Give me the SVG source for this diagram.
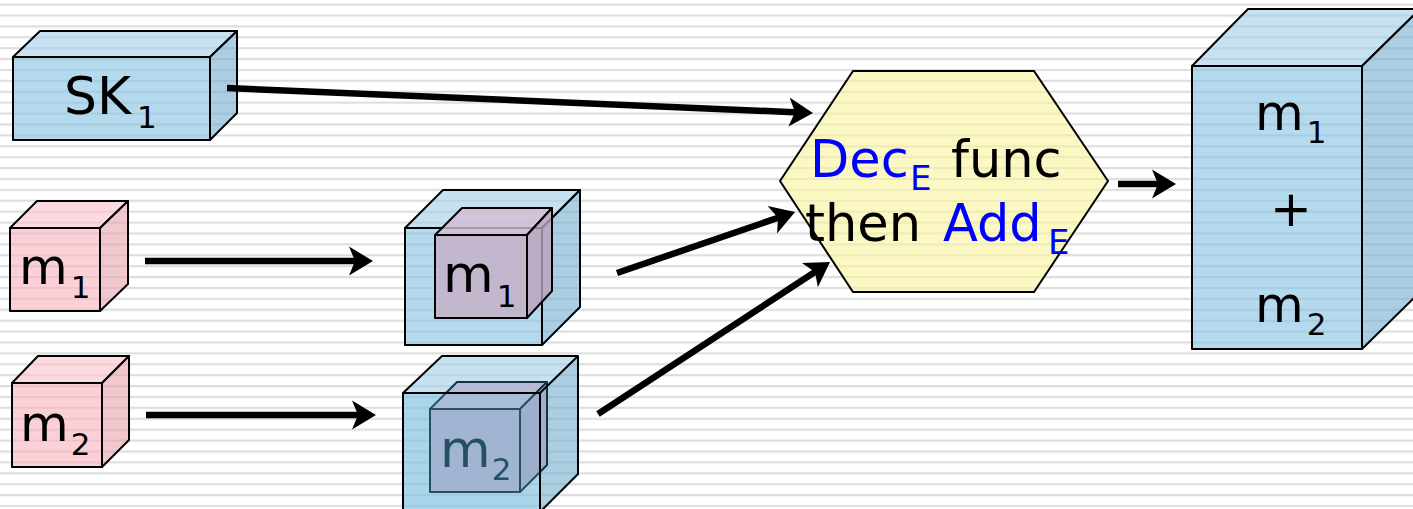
<svg xmlns="http://www.w3.org/2000/svg" width="1413" height="509" viewBox="0 0 1413 509">
  <defs>
    <!-- ruled paper background -->
    <pattern id="rules" patternUnits="userSpaceOnUse" x="0" y="3.5" width="20" height="10.9">
      <rect x="0" y="0" width="20" height="2.2" fill="#dedede"/>
    </pattern>
    <!-- tip sits 14px past the end of the line -->
    <marker id="arrow" markerUnits="userSpaceOnUse" markerWidth="28" markerHeight="34" viewBox="-26 -17 28 34" refX="-14" refY="0" orient="auto">
      <path d="M0,0 L-24,-14.5 L-18,0 L-24,14.5 Z" fill="#000"/>
    </marker>
    <style>
      .edge { stroke: #000; stroke-width: 2; stroke-linejoin: round; }
      .blue-front { fill: #84c1e3; fill-opacity: 0.6; }
      .blue-top { fill: #a0cfe9; fill-opacity: 0.6; }
      .blue-side { fill: #74aece; fill-opacity: 0.6; }
      .pink-front { fill: #f8b1bb; fill-opacity: 0.6; }
      .pink-top { fill: #fac1ca; fill-opacity: 0.6; }
      .pink-side { fill: #e6a3ad; fill-opacity: 0.6; }
      .label { font-family: "DejaVu Sans", Verdana, sans-serif; fill: #000; }
      .blue-text { fill: #0000ff; }
      .conn { stroke: #000; stroke-width: 6.5; fill: none; marker-end: url(#arrow); }
    </style>
  </defs>

  <rect x="0" y="0" width="1413" height="509" fill="#fff"/>
  <rect x="0" y="0" width="1413" height="509" fill="url(#rules)"/>

  <!-- secret key block -->
  <g id="sk1">
    <polygon class="blue-front edge" points="13,57 210,57 210,140 13,140"/>
    <polygon class="blue-top edge" points="13,57 40,31 237,31 210,57"/>
    <polygon class="blue-side edge" points="210,57 237,31 237,113 210,140"/>
    <text class="label" x="64" y="114" font-size="52">SK<tspan font-size="31" dx="6" dy="14">1</tspan></text>
  </g>

  <!-- plaintext m1 -->
  <g id="m1-plain">
    <polygon class="pink-front edge" points="10,228 100,228 100,311 10,311"/>
    <polygon class="pink-top edge" points="10,228 37,201 128,201 100,228"/>
    <polygon class="pink-side edge" points="100,228 128,201 128,284 100,311"/>
    <text class="label" x="19" y="284" font-size="50">m<tspan font-size="31" dx="3" dy="14">1</tspan></text>
  </g>

  <!-- plaintext m2 -->
  <g id="m2-plain">
    <polygon class="pink-front edge" points="12,383 102,383 102,467 12,467"/>
    <polygon class="pink-top edge" points="12,383 38,356 129,356 102,383"/>
    <polygon class="pink-side edge" points="102,383 129,356 129,440 102,467"/>
    <text class="label" x="20" y="441" font-size="50">m<tspan font-size="31" dx="2" dy="14">2</tspan></text>
  </g>

  <!-- m1 encrypted: box wrapped around the message -->
  <g id="m1-enc">
    <polygon class="blue-front edge" points="405,228 542,228 542,345 405,345"/>
    <polygon class="blue-top edge" points="405,228 443,190 580,190 542,228"/>
    <polygon class="blue-side edge" points="542,228 580,190 580,307 542,345"/>
    <g fill-opacity="0.8" stroke="#000" stroke-width="2" stroke-linejoin="round">
      <polygon fill="#c7aec6" points="435,235 527,235 527,318 435,318"/>
      <polygon fill="#d2bcd3" points="435,235 462,208 552,208 527,235"/>
      <polygon fill="#bba2bb" points="527,235 552,208 552,291 527,318"/>
    </g>
    <text class="label" x="443" y="292" font-size="52">m<tspan font-size="31" dx="3" dy="15">1</tspan></text>
  </g>

  <!-- m2 encrypted: message seen through the box -->
  <g id="m2-enc">
    <polygon class="blue-front" points="403,393 540,393 540,512 403,512"/>
    <polygon class="blue-top" points="403,393 442,356 578,356 540,393"/>
    <polygon class="blue-side" points="540,393 578,356 578,474 540,512"/>
    <g stroke="#12343f" stroke-width="2" stroke-linejoin="round">
      <polygon fill="#a9b2cf" points="430,409 520,409 520,492 430,492"/>
      <polygon fill="#b5bcd6" points="430,409 457,382 547,382 520,409"/>
      <polygon fill="#a3acc8" points="520,409 547,382 547,465 520,492"/>
    </g>
    <text class="label" x="440" y="467" font-size="52" style="fill:#0d3443">m<tspan font-size="31" dx="1" dy="13">2</tspan></text>
    <polygon class="blue-front" points="403,393 540,393 540,512 403,512" style="fill-opacity:0.2"/>
    <g fill="none" class="edge">
      <polyline points="403,512 403,393 540,393 540,512"/>
      <polyline points="403,393 442,356 578,356 540,393"/>
      <polyline points="578,356 578,474 540,512"/>
    </g>
  </g>

  <!-- homomorphic evaluation step -->
  <g id="eval">
    <polygon points="853,71 1034,71 1108,181 1034,292 853,292 780,181" fill="#f8f39d" fill-opacity="0.6" stroke="#000" stroke-width="2"/>
    <text class="label" y="177" font-size="51"><tspan class="blue-text" x="810">Dec</tspan><tspan class="blue-text" x="910" y="190" font-size="34">E</tspan><tspan x="951" y="177">func</tspan></text>
    <text class="label" y="241" font-size="51"><tspan x="805">then</tspan><tspan class="blue-text" x="943">Add</tspan><tspan class="blue-text" x="1048" y="254" font-size="34">E</tspan></text>
  </g>

  <!-- encrypted sum -->
  <g id="sum">
    <polygon class="blue-front edge" points="1192,66 1362,66 1362,349 1192,349"/>
    <polygon class="blue-top edge" points="1192,66 1248,9 1420,9 1362,66"/>
    <polygon class="blue-side edge" points="1362,66 1420,9 1420,292 1362,349"/>
    <text class="label" x="1255" y="130" font-size="50">m<tspan font-size="31" dx="3" dy="13">1</tspan></text>
    <text class="label" x="1291" y="226" font-size="50" text-anchor="middle">+</text>
    <text class="label" x="1255" y="322" font-size="50">m<tspan font-size="31" dx="3" dy="13">2</tspan></text>
  </g>

  <g id="connectors">
    <line class="conn" x1="227" y1="88" x2="799" y2="112.4"/>
    <line class="conn" x1="145" y1="261" x2="359" y2="261"/>
    <line class="conn" x1="146" y1="415" x2="362" y2="415"/>
    <line class="conn" x1="617" y1="273" x2="781.8" y2="216.5"/>
    <line class="conn" x1="598" y1="414" x2="818.3" y2="269.7"/>
    <line class="conn" x1="1118" y1="184" x2="1162" y2="184"/>
  </g>
</svg>
